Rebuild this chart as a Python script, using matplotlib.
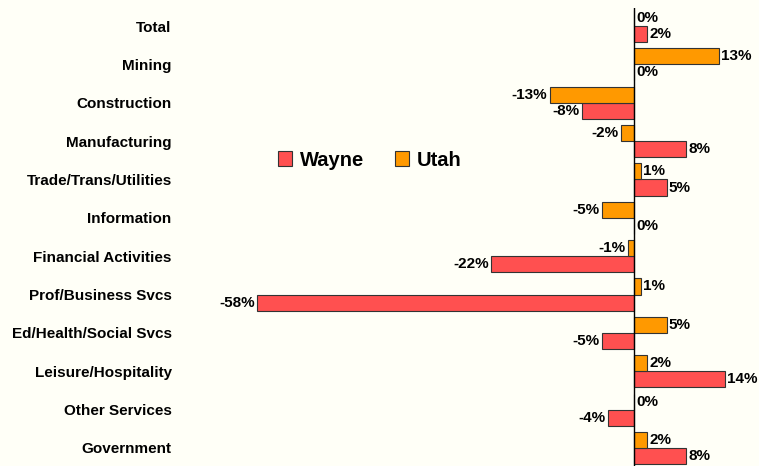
import matplotlib.pyplot as plt
import numpy as np

plt.rcParams['font.family'] = ['Liberation Sans', 'DejaVu Sans']

categories = ["Total", "Mining", "Construction", "Manufacturing", "Trade/Trans/Utilities",
              "Information", "Financial Activities", "Prof/Business Svcs",
              "Ed/Health/Social Svcs", "Leisure/Hospitality", "Other Services", "Government"]
utah = [0, 13, -13, -2, 1, -5, -1, 1, 5, 2, 0, 2]
wayne = [2, 0, -8, 8, 5, 0, -22, -58, -5, 14, -4, 8]

bg = "#FFFFF7"
fig = plt.figure(figsize=(7.59, 4.66), dpi=100, facecolor=bg)
ax = fig.add_axes([180 / 759, 0, 579 / 759, 458 / 466])
ax.set_facecolor(bg)

y = np.arange(len(categories))
h = 0.42
b_wayne = ax.barh(y + h / 2, wayne, height=h, color="#FF5050", edgecolor="#333333", lw=0.8, label="Wayne")
b_utah = ax.barh(y - h / 2, utah, height=h, color="#FF9900", edgecolor="#333333", lw=0.8, label="Utah")

for bars, vals in ((b_wayne, wayne), (b_utah, utah)):
    for bar, v in zip(bars, vals):
        yc = bar.get_y() + bar.get_height() / 2
        if v < 0:
            ax.annotate(f"{v}%", (v, yc), xytext=(-1.5, 0), textcoords="offset points",
                        ha="right", va="center", fontsize=11, fontweight="bold")
        else:
            ax.annotate(f"{v}%", (v, yc), xytext=(1.5, 0), textcoords="offset points",
                        ha="left", va="center", fontsize=11, fontweight="bold")

ax.axvline(0, color="black", lw=1)
ax.set_xlim(-69.8, 19.2)
ax.set_ylim(11.47, -0.47)
ax.set_yticks(y)
ax.set_yticklabels(categories, fontsize=11, fontweight="bold")
ax.tick_params(axis="y", length=0, pad=6)
ax.set_xticks([])
for s in ax.spines.values():
    s.set_visible(False)

leg = ax.legend(handles=[b_wayne, b_utah], ncol=2, frameon=False, loc="center",
                prop={"weight": "bold", "size": 14.5}, handlelength=0.7, handleheight=0.7,
                columnspacing=1.5, handletextpad=0.4)
leg.set_bbox_to_anchor((370 / 759, 1 - 160 / 466), transform=fig.transFigure)

fig.savefig("out.png", dpi=100, facecolor=bg)
